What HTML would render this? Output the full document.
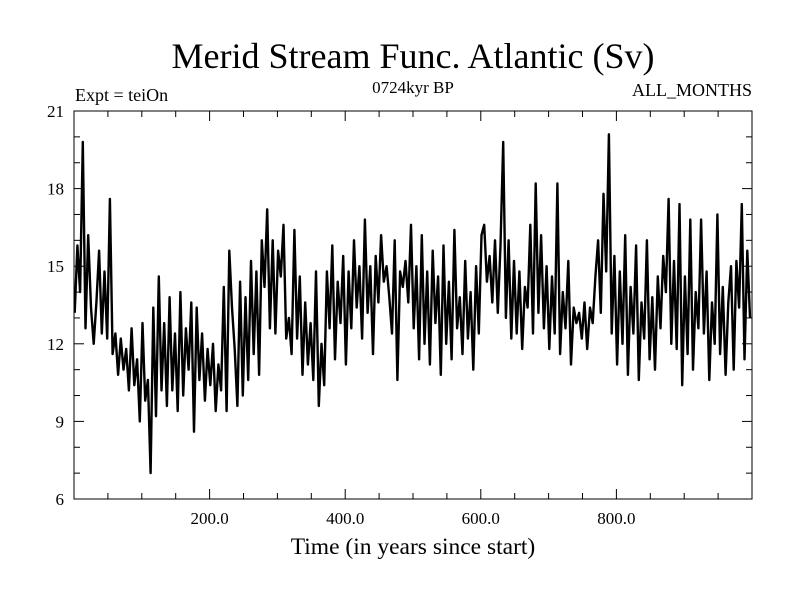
<!DOCTYPE html>
<html><head><meta charset="utf-8"><style>
body{margin:0;background:#fff;}
svg{display:block;font-family:"Liberation Serif",serif;}
</style></head><body>
<svg id="chart" width="800" height="600">
<text x="413" y="68" font-size="36" text-anchor="middle">Merid Stream Func. Atlantic (Sv)</text>
<text x="75" y="101" font-size="18">Expt = teiOn</text>
<text x="413" y="93" font-size="17" text-anchor="middle">0724kyr BP</text>
<text x="752" y="96" font-size="18" text-anchor="end">ALL_MONTHS</text>
<text x="413" y="554" font-size="23.5" text-anchor="middle">Time (in years since start)</text>
<g id="axes"></g>
<path id="series" fill="none" stroke="#000" stroke-width="2.4" stroke-linejoin="round"></path>
<rect x="74" y="111" width="678" height="388" fill="none" stroke="#000" stroke-width="1"/>
</svg>
<script>
const yTicks=[6,9,12,15,18,21];
const xTicks=[200,400,600,800];
const xTickLabels=["200.0","400.0","600.0","800.0"];
const step=4;
const values=[
13.2,15.8,14.0,19.8,12.6,16.2,13.4,12.0,13.6,15.6,12.4,14.8,12.2,17.6,11.6,12.4,10.8,12.2,11.0,11.8,10.2,12.6,10.4,11.4,9.0,
12.8,9.8,10.6,7.0,13.4,9.2,14.6,10.2,12.8,9.6,13.8,10.2,12.4,9.4,14.0,10.0,12.6,11.0,13.6,8.6,13.4,10.6,12.4,9.8,11.8,
10.4,12.0,9.4,11.2,10.2,14.2,9.4,15.6,13.4,11.8,9.6,14.4,10.0,13.8,10.6,15.2,11.6,14.8,10.8,16.0,14.2,17.2,12.6,16.0,12.4,
15.6,14.6,16.6,12.2,13.0,11.6,16.4,12.2,14.6,10.8,13.6,11.2,12.8,10.6,14.8,9.6,12.0,10.4,14.8,12.6,15.8,11.4,14.4,12.8,15.4,
11.2,14.8,12.6,16.0,13.4,15.0,12.2,16.8,13.2,15.0,11.6,15.4,13.6,16.2,14.4,15.0,13.8,12.4,16.0,10.6,14.8,14.2,15.2,13.6,16.6,
12.6,15.0,11.4,16.2,12.0,14.8,11.2,15.6,12.8,14.6,10.8,15.8,12.0,14.4,11.4,16.4,12.6,13.8,11.6,15.2,12.2,14.0,11.0,15.0,12.4,
16.2,16.6,14.4,15.4,13.6,16.0,13.2,15.8,19.8,13.0,16.0,12.2,15.2,12.4,14.8,11.8,14.2,13.4,16.6,12.4,18.2,13.2,16.2,12.6,15.0,
11.8,14.6,12.4,18.2,11.6,14.0,12.6,15.2,11.2,13.4,12.8,13.2,12.2,13.6,11.8,13.4,12.8,14.6,16.0,13.2,17.8,14.8,20.1,12.4,15.4,
11.2,14.8,12.0,16.2,10.8,14.2,12.4,15.8,10.6,13.6,12.2,16.0,11.4,13.8,11.0,14.6,12.6,15.4,14.0,17.6,12.0,15.2,11.8,17.4,10.4,
14.6,11.6,16.8,11.0,14.0,12.6,16.8,12.4,14.8,10.6,13.6,12.0,17.0,11.6,14.2,10.8,13.6,15.0,11.0,15.2,13.4,17.4,11.4,15.6,13.0
];
const L=74,R=752,T=111,B=499,X0=0,X1=1000,Y0=6,Y1=21;
const sx=v=>L+(v-X0)/(X1-X0)*(R-L);
const sy=v=>B-(v-Y0)/(Y1-Y0)*(B-T);
const NS="http://www.w3.org/2000/svg";
const ax=document.getElementById('axes');
function mk(tag,attrs){const e=document.createElementNS(NS,tag);for(const k in attrs)e.setAttribute(k,attrs[k]);return e;}
for(let v=Y0;v<=Y1;v++){
  const major=(v%3===0);const len=major?10:6;
  const t1=mk('line',{x1:L,x2:L+len,y1:sy(v),y2:sy(v),stroke:'#000'});
  
  
  ax.appendChild(t1);
  const t2=mk('line',{x1:R-len,x2:R,y1:sy(v),y2:sy(v),stroke:'#000'});
  
  
  ax.appendChild(t2);
}
yTicks.forEach(v=>{
  const t=mk('text',{x:L-10,y:sy(v)+6,'font-size':17,'text-anchor':'end'});
  t.textContent=v;
  
  
  ax.appendChild(t);
});
for(let v=50;v<X1;v+=50){
  const major=(v%200===0);const len=major?10:6;
  const a=mk('line',{x1:sx(v),x2:sx(v),y1:B,y2:B-len,stroke:'#000'});
  
  
  ax.appendChild(a);
  const b=mk('line',{x1:sx(v),x2:sx(v),y1:T,y2:T+len,stroke:'#000'});
  
  
  ax.appendChild(b);
}
xTicks.forEach((v,i)=>{
  const t=mk('text',{x:sx(v),y:B+25,'font-size':17,'text-anchor':'middle'});
  t.textContent=xTickLabels[i];
  
  
  ax.appendChild(t);
});
let d='';
values.forEach((v,i)=>{d+=(i?'L':'M')+sx(i*step+1).toFixed(1)+' '+sy(v).toFixed(1);});
document.getElementById('series').setAttribute('d',d);
</script>
</body></html>
